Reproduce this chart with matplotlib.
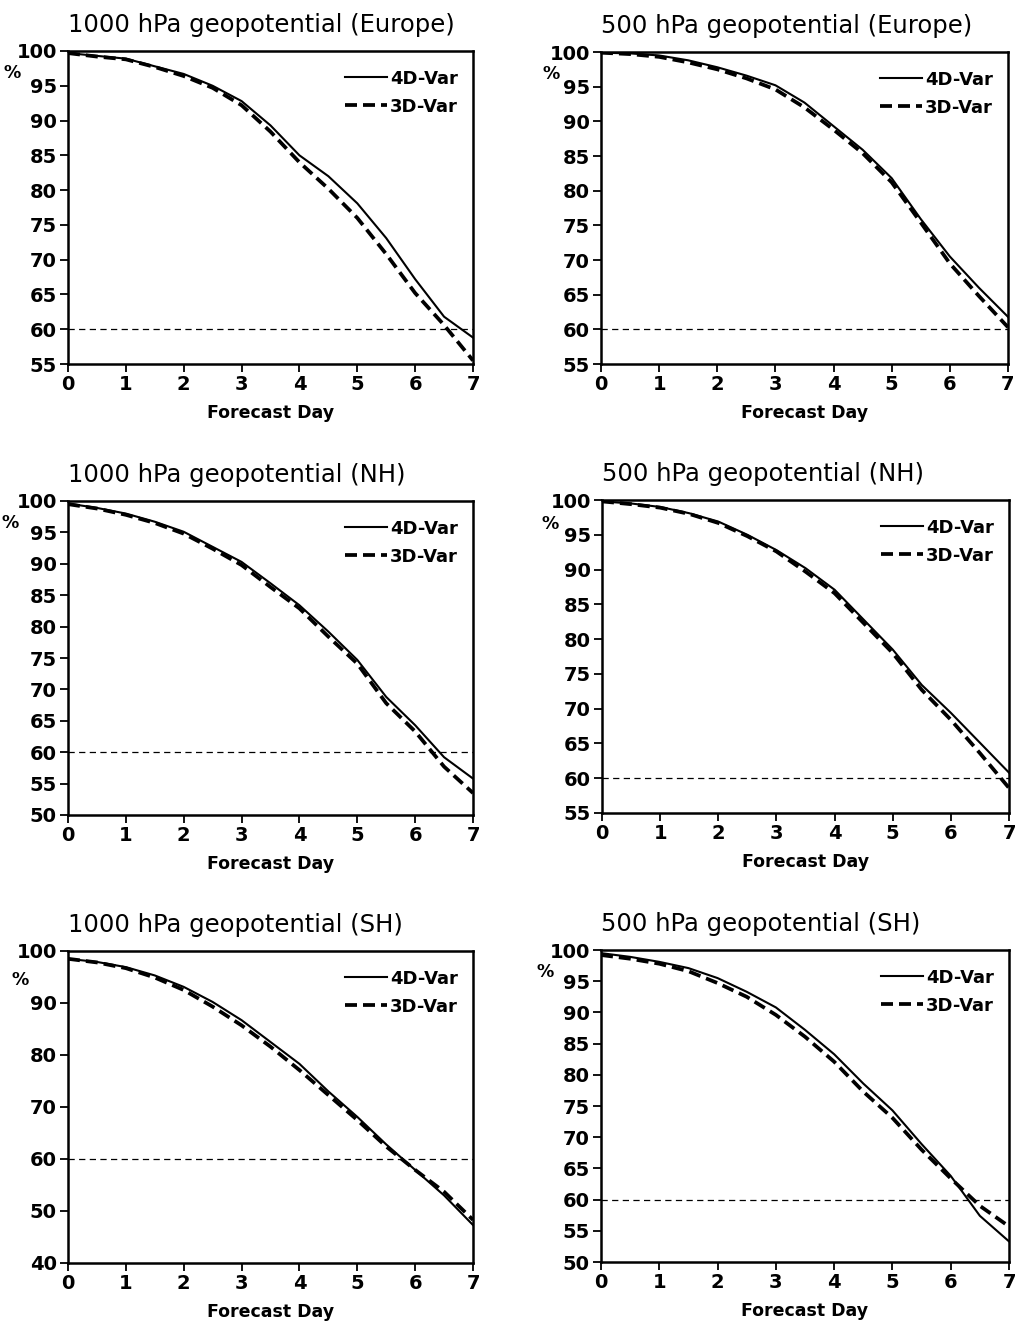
import matplotlib
matplotlib.use("Agg")
import matplotlib.pyplot as plt

plt.rcParams['font.family'] = ['DejaVu Sans']

days = [0, 0.5, 1, 1.5, 2, 2.5, 3, 3.5, 4, 4.5, 5, 5.5, 6, 6.5, 7]

titles = ["1000 hPa geopotential (Europe)", "500 hPa geopotential (Europe)",
          "1000 hPa geopotential (NH)", "500 hPa geopotential (NH)",
          "1000 hPa geopotential (SH)", "500 hPa geopotential (SH)"]

eu1000_4d = [99.7, 99.3, 98.9, 97.8, 96.7, 95.0, 92.8, 89.3, 85.0, 82.0, 78.1, 73.1, 67.2, 61.8, 58.8]
eu1000_3d = [99.7, 99.2, 98.8, 97.7, 96.4, 94.7, 92.2, 88.4, 84.0, 80.2, 76.0, 70.8, 65.2, 60.6, 55.5]
eu500_4d = [99.9, 99.8, 99.5, 98.8, 97.8, 96.6, 95.2, 92.7, 89.3, 85.9, 81.8, 75.9, 70.5, 66.0, 61.8]
eu500_3d = [99.9, 99.7, 99.3, 98.5, 97.5, 96.2, 94.6, 92.0, 88.8, 85.4, 81.2, 75.4, 69.5, 64.8, 60.3]
nh1000_4d = [99.6, 98.9, 98.0, 96.7, 95.1, 92.7, 90.3, 86.9, 83.4, 79.2, 74.7, 68.8, 64.3, 59.2, 55.8]
nh1000_3d = [99.5, 98.8, 97.8, 96.5, 94.8, 92.4, 89.8, 86.3, 82.9, 78.4, 74.1, 67.8, 63.3, 57.7, 53.5]
nh500_4d = [99.8, 99.5, 99.0, 98.1, 96.9, 95.0, 92.8, 90.2, 87.1, 82.8, 78.5, 73.4, 69.4, 65.1, 60.8]
nh500_3d = [99.8, 99.4, 98.9, 98.0, 96.7, 94.8, 92.6, 89.7, 86.6, 82.3, 78.0, 72.7, 68.4, 63.6, 58.6]
sh1000_4d = [98.5, 97.9, 96.9, 95.3, 93.1, 90.2, 86.7, 82.5, 78.3, 73.0, 68.1, 62.8, 57.9, 53.0, 47.3]
sh1000_3d = [98.5, 97.8, 96.7, 94.9, 92.5, 89.3, 85.7, 81.6, 77.1, 72.3, 67.5, 62.4, 57.9, 53.7, 48.3]
sh500_4d = [99.5, 98.9, 98.1, 97.1, 95.5, 93.3, 90.8, 87.2, 83.3, 78.6, 74.3, 68.9, 63.8, 57.4, 53.3]
sh500_3d = [99.2, 98.6, 97.8, 96.6, 94.7, 92.5, 89.6, 86.1, 82.1, 77.3, 73.1, 68.0, 63.4, 59.0, 55.7]

series_4d = [eu1000_4d, eu500_4d, nh1000_4d, nh500_4d, sh1000_4d, sh500_4d]
series_3d = [eu1000_3d, eu500_3d, nh1000_3d, nh500_3d, sh1000_3d, sh500_3d]

ymins = [55, 55, 50, 55, 40, 50]
ysteps = [5, 5, 5, 5, 10, 5]
x_ticks = [0, 1, 2, 3, 4, 5, 6, 7]
threshold = 60

W, H = 1023, 1322
fig = plt.figure(figsize=(W / 100, H / 100), dpi=100)

# axes boxes in pixels: left, right, top, bottom
boxes = [(68, 473, 51, 364), (601, 1008, 52, 364),
         (68, 473, 501, 815), (602, 1009, 500, 813),
         (68, 473, 951, 1263), (601, 1009, 950, 1262)]
pct_pos = [(12, 73), (551, 74), (10, 523), (550, 524), (20, 980), (545, 972)]

for i in range(6):
    l, r, t, b = boxes[i]
    ax = fig.add_axes([l / W, 1 - b / H, (r - l) / W, (b - t) / H])
    ax.plot(days, series_4d[i], color='black', lw=1.5, solid_joinstyle='round', label='4D-Var', zorder=3)
    ax.plot(days, series_3d[i], color='black', lw=2.7, linestyle=(0, (3.2, 1.6)), label='3D-Var', zorder=2)
    ax.plot([0, 7], [threshold, threshold], color='black', lw=0.9, linestyle=(0, (5, 3.5)), zorder=1)
    ax.set_xlim(0, 7)
    ax.set_ylim(ymins[i], 100)
    ax.set_xticks(x_ticks)
    ax.set_yticks(list(range(ymins[i], 101, ysteps[i])))
    for s in ax.spines.values():
        s.set_linewidth(1.8)
    ax.tick_params(axis='both', direction='out', length=5.5, width=1.3, pad=2.5,
                   labelsize=14)
    for lab in ax.get_xticklabels() + ax.get_yticklabels():
        lab.set_fontweight('bold')
    ax.set_xlabel('Forecast Day', fontsize=12.5, fontweight='bold', labelpad=7)
    ax.set_title(titles[i], loc='left', fontsize=17.5, pad=14)
    ax.legend(loc='upper right', bbox_to_anchor=(0.99, 0.975), frameon=False,
              handlelength=2.3, handletextpad=0.2, labelspacing=0.55,
              borderaxespad=0.2, prop={'size': 13, 'weight': 'bold'})
    px, py = pct_pos[i]
    fig.text(px / W, 1 - py / H, '%', fontsize=12.5, fontweight='bold', ha='center', va='center')

fig.savefig('out.png', dpi=100)
